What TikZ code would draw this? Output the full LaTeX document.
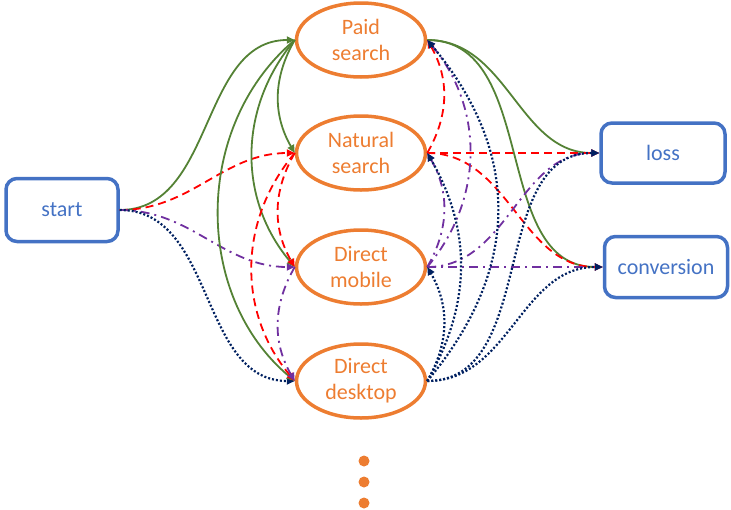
\documentclass[tikz,border=0pt]{standalone}
\usepackage{fontspec}
\setmainfont{Carlito}
\usetikzlibrary{shapes.geometric,arrows.meta}
\definecolor{orng}{HTML}{ED7D31}
\definecolor{blu}{HTML}{4472C4}
\definecolor{grn}{HTML}{548235}
\definecolor{redd}{HTML}{FF0000}
\definecolor{purp}{HTML}{7030A0}
\definecolor{navyc}{HTML}{002060}
\begin{document}
\begin{tikzpicture}[x=1pt,y=1pt,
  chan/.style={ellipse, draw=orng, line width=3.5pt, minimum width=129pt, minimum height=74pt,
    inner sep=0pt, text=orng, align=center, font=\fontsize{22}{26}\selectfont},
  endbox/.style={rectangle, rounded corners=11pt, draw=blu, line width=3.5pt, text=blu,
    font=\fontsize{22}{26}\selectfont},
  conn/.style={line width=1.8pt, -{Triangle[length=8pt,width=7pt]}},
  gline/.style={conn, draw=grn},
  rline/.style={conn, draw=redd, dash pattern=on 8pt off 5pt},
  pline/.style={conn, draw=purp, dash pattern=on 9pt off 5pt on 2pt off 5pt},
  nline/.style={conn, draw=navyc, line width=2.2pt, dash pattern=on 2pt off 2pt},
  dotc/.style={circle, fill=orng, minimum size=11pt, inner sep=0pt}
]
\useasboundingbox (0,0) rectangle (731,-509);

\node[endbox, minimum width=112pt, minimum height=63pt] (start) at (62,-210) {start};
\node[chan] (paid) at (361,-40) {Paid\\search};
\node[chan] (nat) at (361,-153) {Natural\\search};
\node[chan] (mob) at (361,-267) {Direct\\mobile};
\node[chan] (desk) at (361,-381) {Direct\\desktop};
\node[endbox, minimum width=124pt, minimum height=60pt] (loss) at (663,-153) {loss};
\node[endbox, minimum width=123pt, minimum height=61pt] (conv) at (666,-267) {conversion};
\node[dotc] (d1) at (364,-461) {};
\node[dotc] (d2) at (364,-482) {};
\node[dotc] (d3) at (364,-503) {};

% from start
\draw[gline] (start.east) to[out=0,in=180] (paid.west);
\draw[rline] (start.east) to[out=0,in=180] (nat.west);
\draw[pline] (start.east) to[out=0,in=180] (mob.west);
\draw[nline] (start.east) to[out=0,in=180] (desk.west);

% paid search (green)
\draw[gline] (paid.west) to[out=240,in=120] (nat.west);
\draw[gline] (paid.west) to[out=230,in=130] (mob.west);
\draw[gline] (paid.west) to[out=220,in=140] (desk.west);
\draw[gline] (paid.east) to[out=0,in=180] (loss.west);
\draw[gline] (paid.east) to[out=0,in=180] (conv.west);

% natural search (red)
\draw[rline] (nat.east) to[out=60,in=-60] (paid.east);
\draw[rline] (nat.west) to[out=240,in=120] (mob.west);
\draw[rline] (nat.west) to[out=230,in=130] (desk.west);
\draw[rline] (nat.east) -- (loss.west);
\draw[rline] (nat.east) to[out=0,in=180] (conv.west);

% direct mobile (purple)
\draw[pline] (mob.east) to[out=50,in=-50] (paid.east);
\draw[pline] (mob.east) to[out=60,in=-60] (nat.east);
\draw[pline] (mob.west) to[out=240,in=120] (desk.west);
\draw[pline] (mob.east) to[out=0,in=180] (loss.west);
\draw[pline] (mob.east) -- (conv.west);

% direct desktop (navy)
\draw[nline] (desk.east) to[out=50,in=-50,looseness=1.1] (paid.east);
\draw[nline] (desk.east) to[out=60,in=-60] (nat.east);
\draw[nline] (desk.east) to[out=60,in=-60] (mob.east);
\draw[nline] (desk.east) to[out=0,in=180] (loss.west);
\draw[nline] (desk.east) to[out=0,in=180] (conv.west);
\end{tikzpicture}
\end{document}
